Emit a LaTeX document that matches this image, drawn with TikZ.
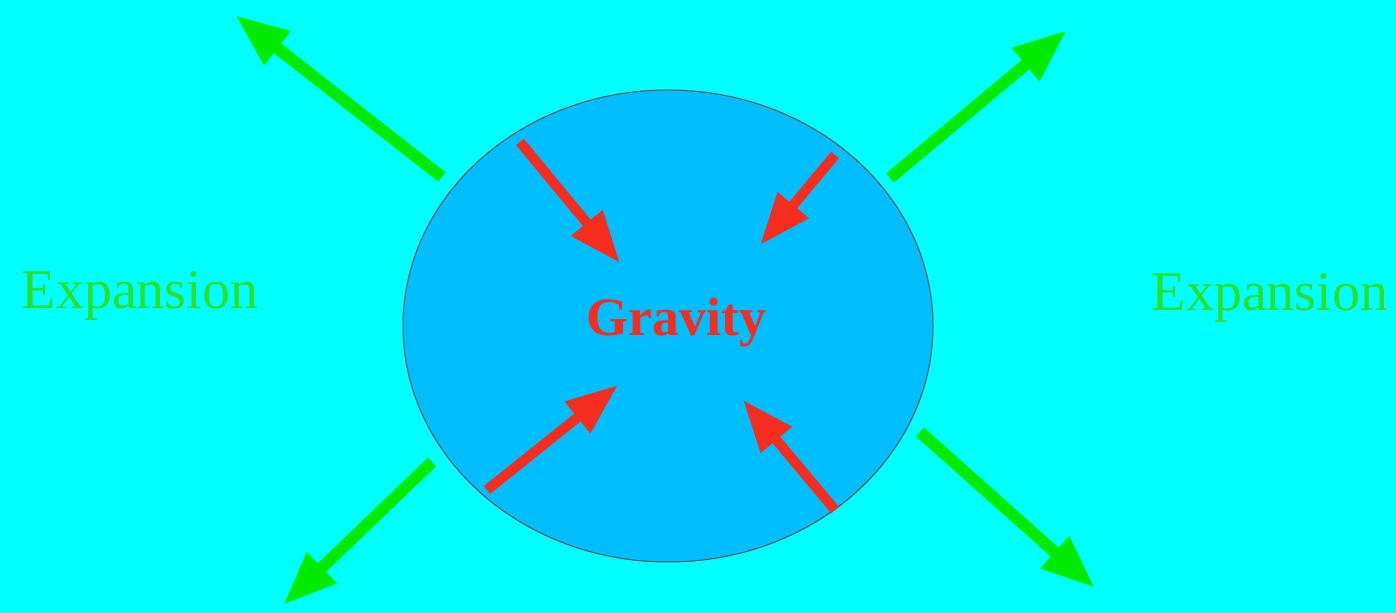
\documentclass[tikz,border=0pt]{standalone}
\usepackage{fontspec}
\setmainfont{Liberation Serif}
\usetikzlibrary{arrows.meta, shapes.geometric}
\definecolor{skyback}{RGB}{0,255,255}
\definecolor{ballblue}{RGB}{0,190,255}
\definecolor{pullred}{RGB}{245,45,30}
\definecolor{pushgreen}{RGB}{0,235,0}
\definecolor{labelgreen}{RGB}{40,225,40}
\begin{document}
\begin{tikzpicture}[x=0.5pt, y=-0.5pt,
  pull/.style={pullred, line width=5pt, -{Triangle[length=26pt, width=19pt]}},
  push/.style={pushgreen, line width=6pt, -{Triangle[length=27pt, width=20pt]}},
  word/.style={labelgreen, font=\fontsize{28}{32}\selectfont}]
\fill[skyback] (0,0) rectangle (1396,613);
\useasboundingbox (0,0) rectangle (1396,613);
% the mass
\node[ellipse, draw=black!70, fill=ballblue, line width=0.5pt,
      minimum width=265pt, minimum height=236pt] (body) at (668,326) {};
\node[pullred, font=\bfseries\fontsize{27}{30}\selectfont] (gravity) at (676,323) {Gravity};
% inward pull
\coordinate (pa1) at (520,142); \coordinate (pb1) at (620,263);
\coordinate (pa2) at (835,155); \coordinate (pb2) at (760,245);
\coordinate (pa3) at (487,490); \coordinate (pb3) at (618,385);
\coordinate (pa4) at (835,510); \coordinate (pb4) at (743,400);
\foreach \i in {1,...,4} \draw[pull] (pa\i) -- (pb\i);
% outward push
\coordinate (qa1) at (442,177); \coordinate (qb1) at (235,15);
\coordinate (qa2) at (890,178); \coordinate (qb2) at (1067,30);
\coordinate (qa3) at (432,462); \coordinate (qb3) at (283,605);
\coordinate (qa4) at (920,432); \coordinate (qb4) at (1095,588);
\foreach \i in {1,...,4} \draw[push] (qa\i) -- (qb\i);
% labels
\node[word] (expleft) at (140,296) {Expansion};
\node[word] (expright) at (1270,298) {Expansion};
\end{tikzpicture}
\end{document}
